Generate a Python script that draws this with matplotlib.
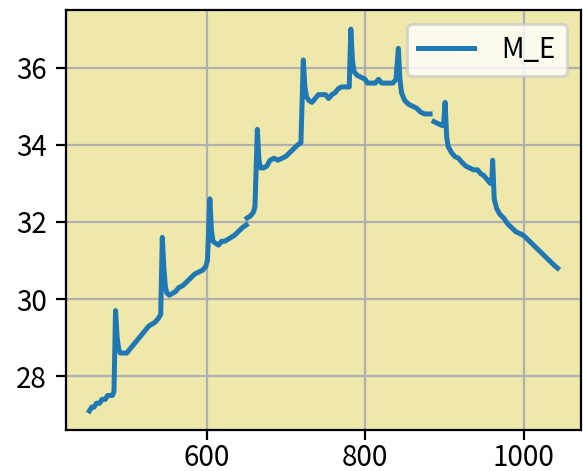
import numpy as np
import matplotlib
matplotlib.use("Agg")
import matplotlib.pyplot as plt

plt.rcParams['font.family'] = ['Noto Sans CJK JP', 'DejaVu Sans']

nan = np.nan

# x positions (gaps in the trace are NaN)
x_vals = [452, 455, 458, 461, 465, 468, 472, 475, 481, 483, 485, 487, 489, 491, 495,
          499, 503, 507, 511, 515, 519, 523, 527, 531, 535, 539, 542, 544, 546, 548,
          550, 553, 557, 561, 565, 570, 575, 580, 585, 590, 595, 599, 601, 604, 606,
          608, 611, 615, 619, 623, 627, 631, 635, 640, 645, 650, 650.5, 651, 655, 659,
          661, 664, 666, 668, 672, 676, 680, 685, 690, 695, 700, 705, 710, 715, 719,
          722, 724, 726, 729, 733, 737, 741, 746, 750, 754, 758, 762, 766, 770, 775,
          780, 782, 784, 786, 790, 795, 800, 803, 808, 813, 817, 821, 825, 830, 835,
          839, 842, 844, 846, 850, 855, 860, 865, 870, 875, 882, 885, 887, 892, 897,
          899, 901, 903, 905, 909, 913, 918, 922, 927, 932, 937, 942, 946, 950, 954,
          958, 960, 961, 963, 966, 970, 975, 980, 985, 990, 995, 1000, 1005, 1010, 1015,
          1020, 1025, 1030, 1035, 1040, 1043]

m_e = [27.1, 27.2, 27.2, 27.3, 27.3, 27.4, 27.4, 27.5, 27.5, 27.6, 29.7, 29.0, 28.7, 28.6, 28.6,
       28.6, 28.7, 28.8, 28.9, 29.0, 29.1, 29.2, 29.3, 29.35, 29.4, 29.5, 29.6, 31.6, 30.8, 30.3,
       30.15, 30.1, 30.15, 30.2, 30.3, 30.35, 30.45, 30.55, 30.65, 30.7, 30.75, 30.85, 31.0, 32.6, 31.8,
       31.5, 31.45, 31.4, 31.5, 31.5, 31.55, 31.6, 31.65, 31.75, 31.85, 31.92, nan, 32.1, 32.15, 32.25,
       32.4, 34.4, 33.6, 33.4, 33.4, 33.45, 33.6, 33.65, 33.6, 33.65, 33.7, 33.8, 33.9, 34.0, 34.05,
       36.2, 35.5, 35.25, 35.15, 35.1, 35.2, 35.3, 35.3, 35.3, 35.2, 35.3, 35.35, 35.45, 35.5, 35.5,
       35.5, 37.0, 36.2, 35.9, 35.8, 35.75, 35.7, 35.6, 35.6, 35.6, 35.7, 35.6, 35.6, 35.6, 35.6,
       35.7, 36.5, 35.7, 35.35, 35.15, 35.05, 35.0, 34.95, 34.85, 34.8, 34.8, nan, 34.6, 34.55, 34.5,
       34.5, 35.1, 34.2, 33.95, 33.8, 33.7, 33.65, 33.55, 33.45, 33.4, 33.35, 33.35, 33.25, 33.2, 33.1,
       33.0, 33.0, 33.6, 32.6, 32.35, 32.2, 32.1, 31.95, 31.85, 31.75, 31.7, 31.65, 31.55, 31.45, 31.35,
       31.25, 31.15, 31.05, 30.95, 30.85, 30.8]

fig = plt.figure(figsize=(5.83 / 2, 4.71 / 2), dpi=200)
ax = fig.add_axes([66 / 583, 1 - 430 / 471, (581 - 66) / 583, (430 - 10) / 471])
ax.set_facecolor('palegoldenrod')

ax.plot(x_vals, m_e, label='M_E', linewidth=1.8)
ax.grid(True)
ax.tick_params(axis='x', pad=1.2)
ax.legend(loc='upper right', handletextpad=1.0, handleheight=0.7)

fig.savefig('out.png', dpi=200)
